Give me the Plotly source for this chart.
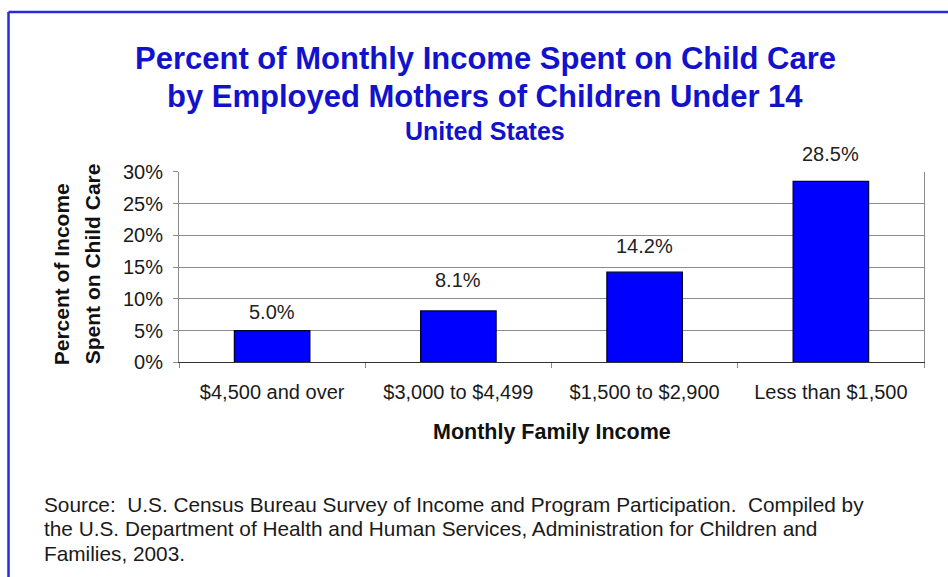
import plotly.graph_objects as go

# Monthly family income brackets and share of income spent on child care (%)
income_brackets = ["$4,500 and over", "$3,000 to $4,499", "$1,500 to $2,900", "Less than $1,500"]
pct_spent = [5.0, 8.1, 14.2, 28.5]
y_ticks = [0, 5, 10, 15, 20, 25, 30]
y_tick_text = [f"{v}%" for v in y_ticks]

title_lines = ["Percent of Monthly Income Spent on Child Care",
               "by Employed Mothers of Children Under 14"]
subtitle = "United States"
y_title_lines = ["Percent of Income", "Spent on Child Care"]
x_title = "Monthly Family Income"
source_lines = [
    "Source:\u00a0 U.S. Census Bureau Survey of Income and Program Participation.\u00a0 Compiled by",
    "the U.S. Department of Health and Human Services, Administration for Children and",
    "Families, 2003.",
]

# value-label lift above each bar, in pixels
label_lift = [9, 21, 17, 18]

W, H = 948, 590
# page layout: vertical scale and top offset of the figure on screen
V_SCALE, V_OFF = 0.9617, 10.0
FONT = "Liberation Sans, Arial, sans-serif"
BLUE_TEXT = "#1212CC"


def px(x):
    return x / W


def fy(y):
    """screen y (px) -> figure y (px)"""
    return (y - V_OFF) / V_SCALE


def py(y):
    return 1 - fy(y) / H


fig = go.Figure()
fig.add_trace(go.Bar(
    x=income_brackets,
    y=pct_spent,
    marker=dict(color="#0000FF", line=dict(color="#000033", width=1.3)),
    hoverinfo="skip",
))

annotations = []
# value labels above bars
for cat, val, lift in zip(income_brackets, pct_spent, label_lift):
    annotations.append(dict(
        x=cat, y=val, xref="x", yref="y", text=f"{val:.1f}%", showarrow=False,
        xanchor="center", yanchor="bottom", yshift=(lift - 4) / V_SCALE,
        font=dict(family=FONT, size=20, color="#222222"),
    ))

# titles
for text, yc, size in [(title_lines[0], 57, 31), (title_lines[1], 95.5, 31), (subtitle, 129.5, 25)]:
    annotations.append(dict(
        x=px(485), y=py(yc), xref="paper", yref="paper", text=f"<b>{text}</b>",
        showarrow=False, xanchor="center", yanchor="middle",
        font=dict(family=FONT, size=size, color=BLUE_TEXT),
    ))

# rotated y-axis title, two lines
for text, xc, yc in [(y_title_lines[0], 61, 273), (y_title_lines[1], 92, 263)]:
    annotations.append(dict(
        x=px(xc), y=py(yc), xref="paper", yref="paper", text=f"<b>{text}</b>",
        showarrow=False, xanchor="center", yanchor="middle", textangle=-90,
        font=dict(family=FONT, size=21, color="#111111"),
    ))

# x-axis title
annotations.append(dict(
    x=px(551.5), y=py(431), xref="paper", yref="paper", text=f"<b>{x_title}</b>",
    showarrow=False, xanchor="center", yanchor="middle",
    font=dict(family=FONT, size=21.5, color="#111111"),
))

# source note
for i, line in enumerate(source_lines):
    annotations.append(dict(
        x=px(42), y=py(503 + 24.3 * i), xref="paper", yref="paper", text=line,
        showarrow=False, xanchor="left", yanchor="middle",
        font=dict(family=FONT, size=20.8, color="#1a1a1a"),
    ))

# blue frame along the left and top edges
top_line = 1 - 1.0 / H
shapes = [
    dict(type="line", xref="paper", yref="paper", x0=px(8.5), x1=px(8.5), y0=-0.02, y1=top_line,
         line=dict(color="#2A2AD8", width=2.5)),
    dict(type="line", xref="paper", yref="paper", x0=px(8.5), x1=1.01, y0=top_line, y1=top_line,
         line=dict(color="#2A2AD8", width=2.5)),
]

fig.update_layout(
    width=W, height=H,
    margin=dict(l=0, r=0, t=0, b=0),
    paper_bgcolor="white", plot_bgcolor="white",
    showlegend=False,
    bargap=0.595,
    annotations=annotations,
    shapes=shapes,
    xaxis=dict(
        domain=[px(179), px(924)],
        showline=True, linecolor="#333333", linewidth=1.2,
        ticks="outside", tickson="boundaries", ticklen=5, tickcolor="#888888",
        tickfont=dict(family=FONT, size=20, color="#1a1a1a"),
        ticklabelstandoff=12,
        showgrid=False,
    ),
    yaxis=dict(
        domain=[py(361), py(170.7)],
        range=[0, 30],
        tickvals=y_ticks, ticktext=y_tick_text,
        showline=True, mirror=True, linecolor="#8c8c8c", linewidth=1,
        showgrid=True, gridcolor="#8c8c8c", gridwidth=1, zeroline=False,
        ticks="outside", ticklen=5, tickcolor="#8c8c8c",
        tickfont=dict(family=FONT, size=20, color="#1a1a1a"),
        ticklabelstandoff=6,
    ),
)

fig.write_html("out.html")
